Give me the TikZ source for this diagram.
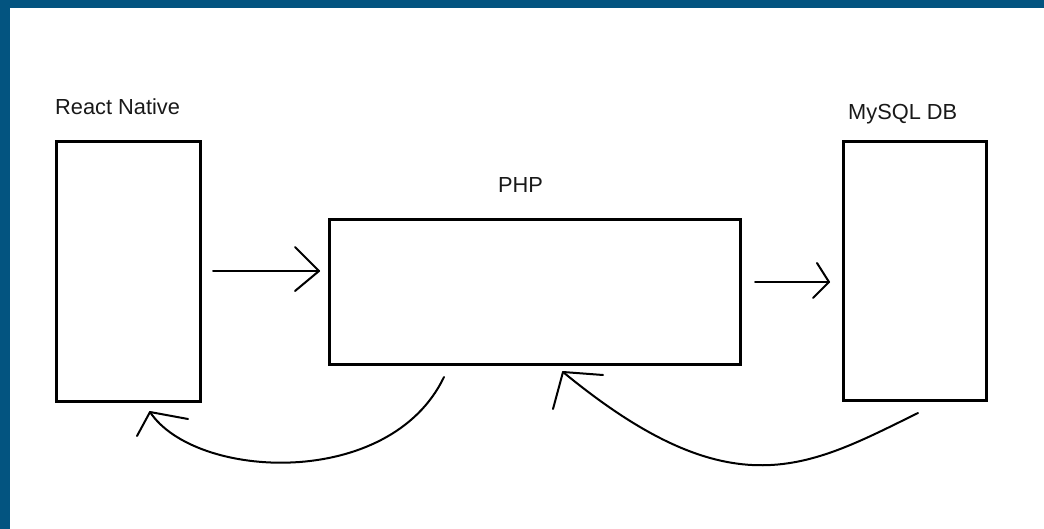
\documentclass[tikz,border=0pt]{standalone}
\usepackage{fontspec}
\setmainfont{Liberation Sans}
\definecolor{frameblue}{RGB}{3,84,128}
\begin{document}
\begin{tikzpicture}[x=1pt,y=-1pt,
  box/.style={draw=black, line width=3pt, fill=white, inner sep=0pt, outer sep=0pt},
  lbl/.style={anchor=base west, inner sep=0pt, font=\fontsize{21.8}{26}\selectfont, text=black!90},
  conn/.style={draw=black, line width=2pt, line cap=round, line join=round}]
\useasboundingbox (0,0) rectangle (1044,529);
\fill[white] (0,0) rectangle (1044,529);
\fill[frameblue] (0,0) rectangle (1044,8);
\fill[frameblue] (0,0) rectangle (10,529);
% boxes
\node[box, minimum width=144pt, minimum height=260pt] (rn) at (128.5,271.5) {};
\node[box, minimum width=411pt, minimum height=145pt] (php) at (535,292) {};
\node[box, minimum width=143pt, minimum height=259pt] (db) at (915,271) {};
% labels
\node[lbl] (rnl) at (55,115) {React Native};
\node[lbl] (phpl) at (498,193) {PHP};
\node[lbl] (dbl) at (848,120) {MySQL DB};
% straight arrows
\coordinate (a1s) at (213,271);
\coordinate (a1t) at (319,271);
\draw[conn] (a1s) -- (a1t);
\draw[conn] (295,247) -- (a1t) -- (295,291);
\coordinate (a2s) at (755,282);
\coordinate (a2t) at (829,282);
\draw[conn] (a2s) -- (a2t);
\draw[conn] (817,263) -- (a2t) -- (813,298);
% curved return arrows
\coordinate (c1s) at (444,377);
\coordinate (c1t) at (150,412);
\draw[conn] (c1s) .. controls (390,490) and (195,480) .. (c1t);
\draw[conn] (137,436) -- (c1t) -- (188,419);
\coordinate (c2s) at (918,413);
\coordinate (c2t) at (563,372);
\draw[conn] (c2s) .. controls (808,467) and (733,512) .. (c2t);
\draw[conn] (553,409) -- (c2t) -- (603,375);
\end{tikzpicture}
\end{document}
